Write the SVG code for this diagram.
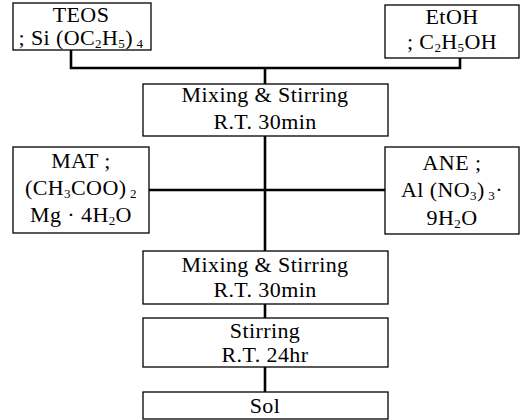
<svg xmlns="http://www.w3.org/2000/svg" width="521" height="420" viewBox="0 0 521 420">
<style>
.box{fill:#fff;stroke:#000;stroke-width:1.3}
.t{font-family:"Liberation Serif","Times New Roman",serif;font-size:22px;letter-spacing:0.4px;fill:#000;text-anchor:middle}
.s{font-size:13px}
.c{fill:none;stroke:#000;stroke-width:2.6}
</style>
<rect width="521" height="420" fill="#fff"/>
<g id="connectors">
<polyline class="c" points="71,50 71,68 460,68 460,58"/>
<line class="c" x1="265" y1="68" x2="265" y2="84"/>
<line class="c" x1="265" y1="136" x2="265" y2="251"/>
<line class="c" x1="149" y1="190" x2="385" y2="190"/>
<line class="c" x1="265" y1="304" x2="265" y2="318"/>
<line class="c" x1="265" y1="367" x2="265" y2="392"/>
</g>
<g id="teos">
<rect class="box" x="13" y="3" width="138" height="47"/>
<text class="t" x="81" y="22">TEOS</text>
<text class="t" x="81" y="45">; Si (OC<tspan class="s" dy="3">2</tspan><tspan dy="-3">H</tspan><tspan class="s" dy="3">5</tspan><tspan dy="-3">)</tspan><tspan class="s" dy="3"> 4</tspan></text>
</g>
<g id="etoh">
<rect class="box" x="385" y="5" width="134" height="53"/>
<text class="t" x="452" y="24">EtOH</text>
<text class="t" x="452" y="49">; C<tspan class="s" dy="3">2</tspan><tspan dy="-3">H</tspan><tspan class="s" dy="3">5</tspan><tspan dy="-3">OH</tspan></text>
</g>
<g id="mix1">
<rect class="box" x="143" y="84" width="245" height="52"/>
<text class="t" x="265" y="102">Mixing &amp; Stirring</text>
<text class="t" x="265" y="129">R.T. 30min</text>
</g>
<g id="mat">
<rect class="box" x="13" y="147" width="136" height="86"/>
<text class="t" x="81" y="168">MAT ;</text>
<text class="t" x="81" y="195">(CH<tspan class="s" dy="3">3</tspan><tspan dy="-3">COO)</tspan><tspan class="s" dy="3"> 2</tspan></text>
<text class="t" x="81" y="222">Mg · 4H<tspan class="s" dy="3">2</tspan><tspan dy="-3">O</tspan></text>
</g>
<g id="ane">
<rect class="box" x="385" y="147" width="134" height="87"/>
<text class="t" x="452" y="170">ANE ;</text>
<text class="t" x="452" y="197">Al (NO<tspan class="s" dy="3">3</tspan><tspan dy="-3">)</tspan><tspan class="s" dy="3"> 3</tspan><tspan dy="-3">·</tspan></text>
<text class="t" x="452" y="225">9H<tspan class="s" dy="3">2</tspan><tspan dy="-3">O</tspan></text>
</g>
<g id="mix2">
<rect class="box" x="143" y="251" width="245" height="53"/>
<text class="t" x="265" y="272">Mixing &amp; Stirring</text>
<text class="t" x="265" y="297">R.T. 30min</text>
</g>
<g id="stir">
<rect class="box" x="143" y="318" width="245" height="49"/>
<text class="t" x="265" y="338">Stirring</text>
<text class="t" x="265" y="362">R.T. 24hr</text>
</g>
<g id="sol">
<rect class="box" x="143" y="392" width="245" height="27"/>
<text class="t" x="265" y="413">Sol</text>
</g>
</svg>
